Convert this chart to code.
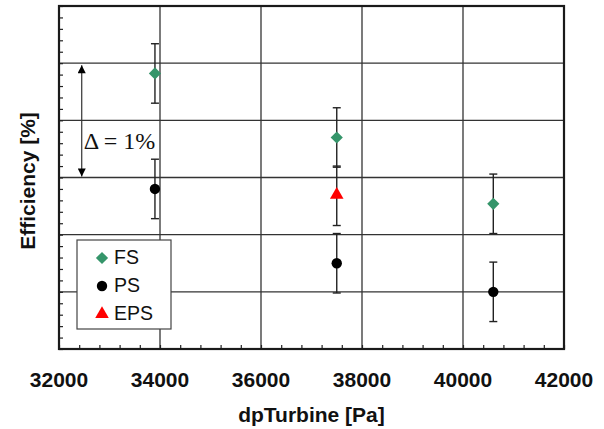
<!DOCTYPE html>
<html>
<head>
<meta charset="utf-8">
<script src="https://cdn.jsdelivr.net/npm/d3@7"></script>
<style>
  body { margin: 0; background: #fff; }
  svg { display: block; }
</style>
</head>
<body>
<div id="chart"></div>
<script>
// data (y in % efficiency, relative; axis has no labels)
const xTicks = [32000, 34000, 36000, 38000, 40000, 42000];
const fsX = [33900, 37500, 40600];
const fsY = [2.41, 1.85, 1.27];
const fsErr = [0.26, 0.26, 0.26];
const psX = [33900, 37500, 40600];
const psY = [1.40, 0.75, 0.50];
const psErr = [0.26, 0.26, 0.26];
const epsX = [37500];
const epsY = [1.34];
const epsErr = [0.26];
const legendLabels = ["FS", "PS", "EPS"];

const width = 604;
const height = 429;
const margin = { top: 6, right: 40, bottom: 80, left: 59 };
const green = "#35956a";
const red = "#ff0000";
const ink = "#222";

const svg = d3
  .select("#chart")
  .append("svg")
  .attr("width", width)
  .attr("height", height)
  .attr("viewBox", [0, 0, width, height]);

const x = d3
  .scaleLinear()
  .domain([32000, 42000])
  .range([margin.left, width - margin.right]);

const y = d3
  .scaleLinear()
  .domain([0, 3])
  .range([height - margin.bottom, margin.top]);

// grid
const grid = svg.append("g").attr("stroke", "#333").attr("stroke-width", 1.3);
grid
  .selectAll("line.vx")
  .data(xTicks.slice(1, -1))
  .join("line")
  .attr("x1", (d) => x(d))
  .attr("x2", (d) => x(d))
  .attr("y1", y(0))
  .attr("y2", y(3));
grid
  .selectAll("line.hy")
  .data(d3.range(0.5, 3, 0.5))
  .join("line")
  .attr("x1", x(32000))
  .attr("x2", x(42000))
  .attr("y1", (d) => y(d))
  .attr("y2", (d) => y(d));

// minor ticks, pointing inward
const xAxis = d3
  .axisBottom(x)
  .tickValues(d3.range(32000, 42001, 400))
  .tickSize(-4)
  .tickFormat("");
svg
  .append("g")
  .attr("transform", `translate(0,${y(0)})`)
  .call(xAxis)
  .call((g) => g.select(".domain").remove())
  .call((g) => g.selectAll("line").attr("stroke", ink).attr("stroke-width", 1.2));

const yAxis = d3
  .axisLeft(y)
  .tickValues(d3.range(0, 3.001, 0.1))
  .tickSize(-4)
  .tickFormat("");
svg
  .append("g")
  .attr("transform", `translate(${x(32000)},0)`)
  .call(yAxis)
  .call((g) => g.select(".domain").remove())
  .call((g) => g.selectAll("line").attr("stroke", ink).attr("stroke-width", 1.2));

// frame
svg
  .append("rect")
  .attr("x", x(32000))
  .attr("y", y(3))
  .attr("width", x(42000) - x(32000))
  .attr("height", y(0) - y(3))
  .attr("fill", "none")
  .attr("stroke", "#1a1a1a")
  .attr("stroke-width", 2.2);

// tick labels
svg
  .append("g")
  .selectAll("text")
  .data(xTicks)
  .join("text")
  .attr("x", (d) => x(d))
  .attr("y", 387)
  .attr("text-anchor", "middle")
  .attr("font-family", "Liberation Sans, Arial, sans-serif")
  .attr("font-weight", "bold")
  .attr("font-size", 21)
  .attr("fill", "#111")
  .text((d) => d);

// axis titles
svg
  .append("text")
  .attr("x", (x(32000) + x(42000)) / 2)
  .attr("y", 422)
  .attr("text-anchor", "middle")
  .attr("font-family", "Liberation Sans, Arial, sans-serif")
  .attr("font-weight", "bold")
  .attr("font-size", 21)
  .attr("fill", "#111")
  .text("dpTurbine [Pa]");

svg
  .append("text")
  .attr("transform", "translate(35,181) rotate(-90)")
  .attr("text-anchor", "middle")
  .attr("font-family", "Liberation Sans, Arial, sans-serif")
  .attr("font-weight", "bold")
  .attr("font-size", 21)
  .attr("fill", "#111")
  .text("Efficiency [%]");

// error bars
function errorBars(xs, ys, errs) {
  const g = svg.append("g").attr("stroke", ink).attr("stroke-width", 1.4);
  const rows = xs.map((d, i) => ({ x: d, y: ys[i], e: errs[i] }));
  g.selectAll("line.stem")
    .data(rows)
    .join("line")
    .attr("x1", (d) => x(d.x))
    .attr("x2", (d) => x(d.x))
    .attr("y1", (d) => y(d.y + d.e))
    .attr("y2", (d) => y(d.y - d.e));
  g.selectAll("line.capTop")
    .data(rows)
    .join("line")
    .attr("x1", (d) => x(d.x) - 4)
    .attr("x2", (d) => x(d.x) + 4)
    .attr("y1", (d) => y(d.y + d.e))
    .attr("y2", (d) => y(d.y + d.e));
  g.selectAll("line.capBot")
    .data(rows)
    .join("line")
    .attr("x1", (d) => x(d.x) - 4)
    .attr("x2", (d) => x(d.x) + 4)
    .attr("y1", (d) => y(d.y - d.e))
    .attr("y2", (d) => y(d.y - d.e));
}
errorBars(fsX, fsY, fsErr);
errorBars(psX, psY, psErr);
errorBars(epsX, epsY, epsErr);

const diamond = d3.symbol(d3.symbolDiamond2, 95);
const circle = d3.symbol(d3.symbolCircle, 85);
const triangle = d3.symbol(d3.symbolTriangle, 80);

svg
  .append("g")
  .selectAll("path")
  .data(fsX)
  .join("path")
  .attr("d", diamond)
  .attr("transform", (d, i) => `translate(${x(d)},${y(fsY[i])})`)
  .attr("fill", green);

svg
  .append("g")
  .selectAll("path")
  .data(psX)
  .join("path")
  .attr("d", circle)
  .attr("transform", (d, i) => `translate(${x(d)},${y(psY[i])})`)
  .attr("fill", "#000");

svg
  .append("g")
  .selectAll("path")
  .data(epsX)
  .join("path")
  .attr("d", triangle)
  .attr("transform", (d, i) => `translate(${x(d)},${y(epsY[i]) - 1})`)
  .attr("fill", red);

// delta annotation
const ax = x(32450);
svg
  .append("defs")
  .append("marker")
  .attr("id", "head")
  .attr("viewBox", "0 0 10 10")
  .attr("refX", 10)
  .attr("refY", 5)
  .attr("markerWidth", 10)
  .attr("markerHeight", 8)
  .attr("markerUnits", "userSpaceOnUse")
  .attr("orient", "auto-start-reverse")
  .append("path")
  .attr("d", "M0,0L10,5L0,10Z")
  .attr("fill", "#000");

svg
  .append("line")
  .attr("x1", ax)
  .attr("x2", ax)
  .attr("y1", y(2.5) + 2)
  .attr("y2", y(1.5) - 1)
  .attr("stroke", "#333")
  .attr("stroke-width", 1.2)
  .attr("marker-start", "url(#head)")
  .attr("marker-end", "url(#head)");

svg
  .append("text")
  .attr("x", ax + 2)
  .attr("y", 149)
  .attr("font-family", "Liberation Serif, Times New Roman, serif")
  .attr("font-size", 24)
  .attr("fill", "#111")
  .text("\u0394 = 1%");

// legend
const legend = svg.append("g");
legend
  .append("rect")
  .attr("x", 77)
  .attr("y", 240)
  .attr("width", 94)
  .attr("height", 89)
  .attr("fill", "#fff")
  .attr("stroke", "#444")
  .attr("stroke-width", 1.2);

const legendSymbols = [diamond, circle, triangle];
const legendColors = [green, "#000", red];
const rowsG = legend
  .selectAll("g")
  .data(legendLabels)
  .join("g")
  .attr("transform", (d, i) => `translate(0,${258 + i * 28})`);
rowsG
  .append("path")
  .attr("d", (d, i) => legendSymbols[i]())
  .attr("transform", "translate(102,0)")
  .attr("fill", (d, i) => legendColors[i]);
rowsG
  .append("text")
  .attr("x", 114)
  .attr("y", 6)
  .attr("font-family", "Liberation Sans, Arial, sans-serif")
  .attr("font-size", 19.5)
  .attr("fill", "#111")
  .text((d) => d);
</script>
</body>
</html>
